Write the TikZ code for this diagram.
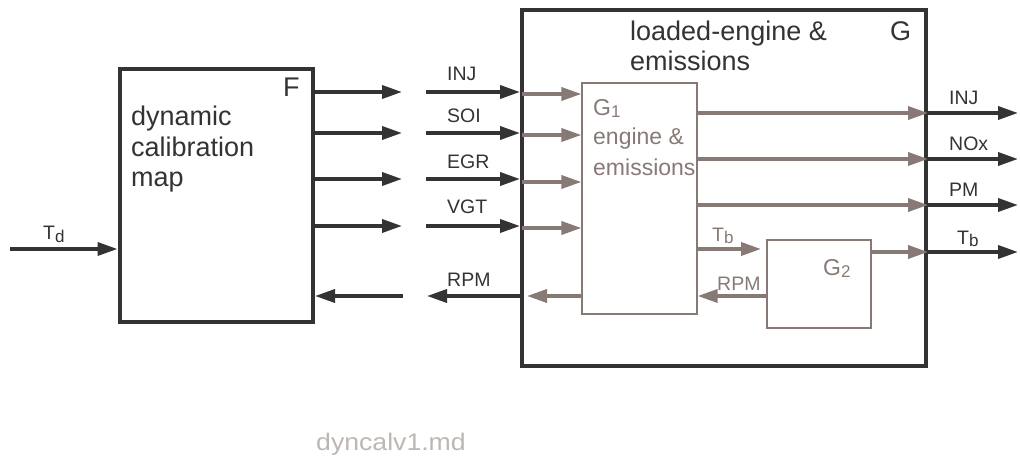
\documentclass[tikz,border=0pt]{standalone}
\usepackage{fontspec}
\setmainfont{Liberation Sans}
\usetikzlibrary{arrows.meta}
\definecolor{dk}{HTML}{333333}
\definecolor{br}{RGB}{135,122,117}
\definecolor{lt}{RGB}{190,182,179}
\newcommand{\lowsub}[3]{\raisebox{-#2pt}{\fontsize{#1}{#1}\selectfont #3}}
\begin{document}
\begin{tikzpicture}[x=1pt,y=-1pt,
  bigbox/.style={draw=dk, line width=4pt, inner sep=0pt},
  smallbox/.style={draw=br, line width=1.2pt, inner sep=0pt},
  darr/.style={draw=dk, line width=3.5pt, -{Triangle[length=20pt,width=13pt]}},
  barr/.style={draw=br, line width=3.5pt, -{Triangle[length=20pt,width=13pt]}},
  lbl/.style={anchor=base west, inner sep=0pt, font=\fontsize{19.5}{19.5}\selectfont, text=dk},
  blbl/.style={anchor=base west, inner sep=0pt, font=\fontsize{19.5}{19.5}\selectfont, text=br},
  bigtxt/.style={anchor=base west, inner sep=0pt, font=\fontsize{27}{30}\selectfont, text=dk},
  medtxt/.style={anchor=base west, inner sep=0pt, font=\fontsize{23}{27}\selectfont, text=br},
]
\useasboundingbox (0,0) rectangle (1020,457);

% boxes
\node[bigbox, minimum width=193.5pt, minimum height=253pt] (F) at (216.25,195.5) {};
\node[bigbox, minimum width=404pt, minimum height=356pt] (G) at (724,188) {};
\node[smallbox, minimum width=115pt, minimum height=231pt] (G1) at (639.5,198.5) {};
\node[smallbox, minimum width=104pt, minimum height=88pt] (G2) at (819,284) {};

% texts in boxes
\node[bigtxt] (tF) at (283,97) {F};
\node[bigtxt] (tdyn1) at (131,126) {dynamic};
\node[bigtxt] (tdyn2) at (131,157) {calibration};
\node[bigtxt] (tdyn3) at (131,187) {map};
\node[bigtxt] (tG) at (890,41) {G};
\node[bigtxt] (tle1) at (630,41) {loaded-engine \&};
\node[bigtxt] (tle2) at (630,71) {emissions};
\node[medtxt] (tG1) at (593,116) {G\lowsub{17}{2}{1}};
\node[medtxt] (tee1) at (593,145) {engine \&};
\node[medtxt] (tee2) at (593,176) {emissions};
\node[medtxt] (tG2) at (823,275) {G\lowsub{17}{2}{2}};

% Td input
\coordinate (td0) at (10,249);
\draw[darr] (td0) -- (F.west |- td0);
\node[lbl] (ltd) at (43,240) {T\lowsub{17}{2.5}{d}};

% F outputs and G inputs
\foreach \nm/\y/\lab/\ly in {inj/92/INJ/81, soi/133/SOI/123, egr/179/EGR/169, vgt/226/VGT/214}{
  \coordinate (a\nm) at (402,\y);
  \coordinate (b\nm) at (426,\y);
  \draw[darr] (F.east |- a\nm) -- (a\nm);
  \draw[darr] (b\nm) -- (G.west |- b\nm);
  \node[lbl] (l\nm) at (447,\ly) {\lab};
}
% RPM back to F
\coordinate (arpm) at (403,296);
\coordinate (brpm) at (427,296);
\draw[darr] (arpm) -- (F.east |- arpm);
\draw[darr] (G.west |- brpm) -- (brpm);
\node[lbl] (lrpm) at (447,286) {RPM};

% inside G: inputs to G1
\foreach \nm/\y in {i1/94, i2/135, i3/182, i4/228}{
  \coordinate (c\nm) at (522,\y);
  \draw[barr] (c\nm) -- (G1.west |- c\nm);
}
% G1 RPM out
\coordinate (crpm) at (527,296);
\draw[barr] (G1.west |- crpm) -- (crpm);

% G1 outputs
\foreach \nm/\y in {o1/113, o2/159, o3/205}{
  \coordinate (d\nm) at (697,\y);
  \draw[barr] (G1.east |- d\nm) -- (G.east |- d\nm);
}
% Tb from G1 to G2
\coordinate (tb1) at (697,249);
\coordinate (tb2) at (761,249);
\draw[barr] (tb1) -- (tb2);
\node[blbl] (ltb) at (712,241) {T\lowsub{17}{2}{b}};
% RPM from G2 to G1
\coordinate (rp1) at (767,296);
\draw[barr] (G2.west |- rp1) -- (G1.east |- rp1);
\node[blbl] (lrp) at (717,290) {RPM};
% G2 output
\coordinate (g2o) at (871,252);
\draw[barr] (G2.east |- g2o) -- (G.east |- g2o);

% outputs outside
\foreach \nm/\y/\lab/\ly/\lx in {o1/113/INJ/105/949, o2/159/NOx/151/949, o3/205/PM/197/949, o4/252/T\lowsub{17}{2}{b}/244/957}{
  \coordinate (e\nm) at (1018,\y);
  \draw[darr] (G.east |- e\nm) -- (e\nm);
  \node[lbl] (lo\nm) at (\lx,\ly) {\lab};
}

% footer
\node[anchor=base west, inner sep=0pt, font=\fontsize{24}{24}\selectfont, text=lt] (foot) at (316,450) {\scalebox{1.11}[1]{dyncalv1.md}};
\end{tikzpicture}
\end{document}
